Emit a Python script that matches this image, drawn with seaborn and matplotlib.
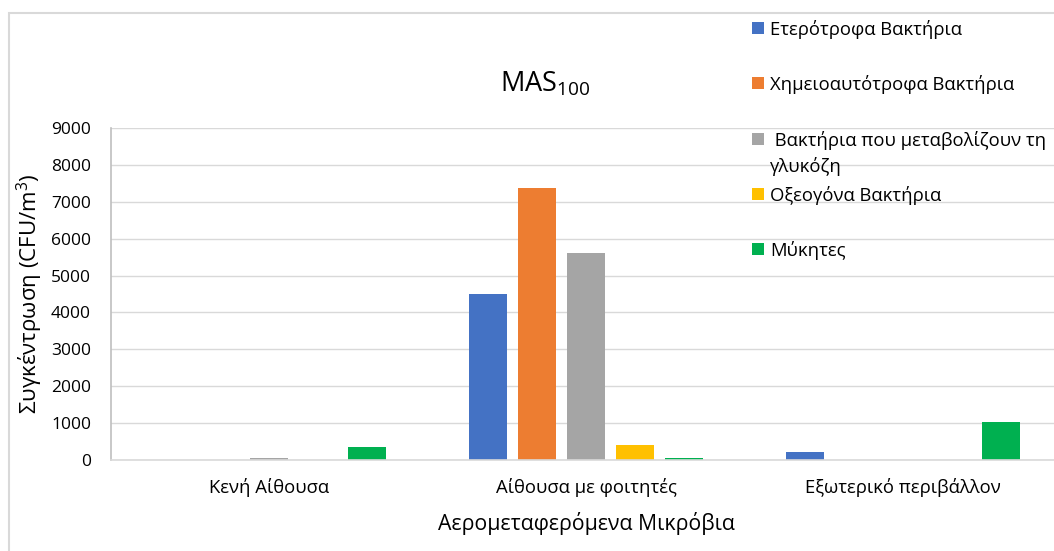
import matplotlib
matplotlib.use("Agg")
import matplotlib.pyplot as plt
from matplotlib.patches import Rectangle
import seaborn as sns
import pandas as pd

# Sampling sites (x categories)
sites = ["Κενή Αίθουσα", "Αίθουσα με φοιτητές", "Εξωτερικό περιβάλλον"]

# Microbial groups (legend order) and their colours
groups = [
    "Ετερότροφα Βακτήρια",
    "Χημειοαυτότροφα Βακτήρια",
    " Βακτήρια που μεταβολίζουν τη\nγλυκόζη",
    "Οξεογόνα Βακτήρια",
    "Μύκητες",
]
colors = ["#4472C4", "#ED7D31", "#A5A5A5", "#FFC000", "#00B050"]

# Concentrations (CFU/m3), one list per group, ordered as `sites`
heterotrophic = [0, 4500, 220]
chemoautotrophic = [0, 7380, 0]
glucose = [60, 5600, 0]
acidogenic = [0, 420, 0]
fungi = [350, 60, 1020]

yticks = list(range(0, 9001, 1000))

values = [heterotrophic, chemoautotrophic, glucose, acidogenic, fungi]
df = pd.DataFrame(
    [(s, g, v) for g, vals in zip(groups, values) for s, v in zip(sites, vals)],
    columns=["site", "group", "value"],
)

sns.set_theme(style="white")
plt.rcParams["font.family"] = ["Open Sans", "DejaVu Sans"]
plt.rcParams["mathtext.fontset"] = "custom"
plt.rcParams["mathtext.rm"] = "Open Sans"

W, H = 1054, 551
fig = plt.figure(figsize=(W / 100, H / 100), dpi=100)
ax = fig.add_axes([110.5 / W, 1 - 460 / H, (1061.5 - 110.5) / W, (460 - 128) / H])

sns.barplot(
    data=df, x="site", y="value", hue="group", order=sites, hue_order=groups,
    palette=colors, saturation=1, width=0.773, gap=0.215, linewidth=0, ax=ax,
    legend=False,
)

ax.set_xlim(-0.5, 2.5)
ax.set_ylim(0, 9000)
ax.set_yticks(yticks)
ax.set_yticklabels([str(t) for t in yticks])
ax.yaxis.grid(True, color="#D9D9D9", linewidth=1.0)
ax.set_axisbelow(True)
for side in ["top", "right"]:
    ax.spines[side].set_visible(False)
ax.spines["left"].set_color("#BFBFBF")
ax.spines["left"].set_linewidth(1.2)
ax.spines["bottom"].set_color("#D9D9D9")
ax.spines["bottom"].set_linewidth(1.2)

ax.tick_params(axis="y", length=0, pad=14, labelsize=12.5, labelcolor="#000000")
ax.tick_params(axis="x", length=0, pad=13, labelsize=13.3, labelcolor="#000000")

ax.set_xlabel("Αερομεταφερόμενα Μικρόβια", fontsize=15.3, color="#000000", labelpad=11)
ax.set_ylabel(r"Συγκέντρωση (CFU/m$\mathregular{^3}$)", fontsize=16,
              color="#000000", labelpad=4)

fig.text(545 / W, 1 - 84 / H, r"$\mathregular{MAS_{100}}$", fontsize=19.5,
         ha="center", va="center", color="#000000")

# Legend: coloured squares with labels stacked on the right
for i, (name, col) in enumerate(zip(groups, colors)):
    yc = 28 + 55.3 * i
    fig.patches.append(Rectangle((752 / W, 1 - (yc + 6) / H), 12 / W, 12 / H,
                                 transform=fig.transFigure, facecolor=col,
                                 edgecolor="none"))
    fig.text(770 / W, 1 - (yc - 8) / H, name, fontsize=13.3, ha="left", va="top",
             color="#000000", linespacing=1.5)

# Chart border
fig.patches.append(Rectangle((9 / W, -0.05), 1.1, 1 - 13 / H + 0.05,
                             transform=fig.transFigure, facecolor="none",
                             edgecolor="#D9D9D9", linewidth=1.5))

fig.savefig("out.png", dpi=100)
